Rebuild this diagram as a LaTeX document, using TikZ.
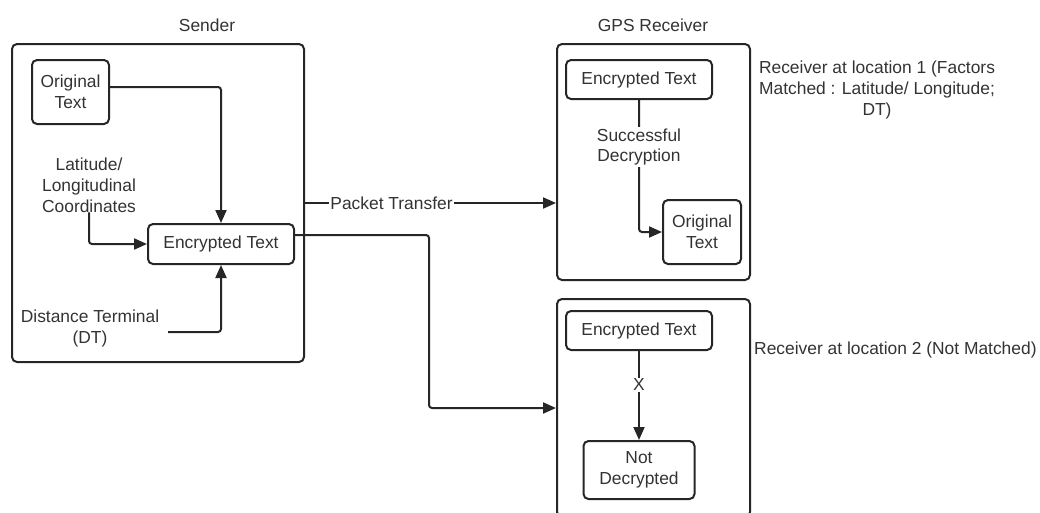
\documentclass[tikz,border=0pt]{standalone}
\usepackage{fontspec}
\setmainfont{Liberation Sans}
\usetikzlibrary{arrows.meta,calc}
\definecolor{ink}{HTML}{262626}
\definecolor{txt}{HTML}{333333}
\begin{document}
\begin{tikzpicture}[x=1pt,y=-1pt,
  every node/.style={font=\fontsize{17.4pt}{20.8pt}\selectfont, text=txt},
  frame/.style={draw=ink, line width=2pt, rounded corners=5pt, inner sep=0pt},
  box/.style={draw=ink, line width=2pt, rounded corners=5pt, align=center, inner sep=0pt},
  tag/.style={fill=white, inner sep=1.5pt, align=center},
  link/.style={draw=ink, line width=2pt, rounded corners=3pt},
  arr/.style={link, -{Triangle[length=13pt,width=11pt]}}]
\useasboundingbox (0,0) rectangle (1040,512);
\clip (0,0) rectangle (1040,512);

% titles
\node (tsend) at (207,25) {Sender};
\node (trecv) at (653,25) {GPS Receiver};

% containers
\node[frame, minimum width=292pt, minimum height=318pt] (sender) at (158,203) {};
\node[frame, minimum width=193pt, minimum height=236pt] (rx1) at (653.5,162) {};
\node[frame, minimum width=193pt, minimum height=218pt] (rx2) at (653.5,408) {};

% sender side
\node[box, minimum width=77pt, minimum height=64pt] (orig) at (70.5,92) {Original\\Text};
\node[box, minimum width=146pt, minimum height=40pt] (senc) at (221,244) {Encrypted Text};
\node[align=center, inner sep=0pt] (lat) at (89,185) {Latitude/\\Longitudinal\\Coordinates};
\node[align=center, inner sep=0pt] (dt) at (90,328.5) {Distance Terminal\\(DT)};
\coordinate (dtend) at (168,332);

\draw[arr] ($(orig.east)+(0,-5)$) -| (senc.north);
\draw[arr] (lat.south) |- (senc.west);
\draw[arr] (dtend) -| (senc.south);

% receiver at location 1
\node[box, minimum width=146pt, minimum height=39pt] (renc) at (639,79.5) {Encrypted Text};
\node[box, minimum width=78pt, minimum height=64pt] (rorig) at (702,232) {Original\\Text};
\draw[arr] (renc.south) |- (rorig.west);
\node[tag] (succ) at (639,147) {Successful\\Decryption};
\node[align=center] (note1) at (877,90) {Receiver at location 1 (Factors\\Matched : Latitude/ Longitude;\\DT)};

% receiver at location 2
\node[box, minimum width=146pt, minimum height=39pt] (renc2) at (639,330.5) {Encrypted Text};
\node[box, minimum width=111pt, minimum height=58pt] (ndec) at (639,470) {Not\\Decrypted};
\draw[arr] (renc2.south) -- (ndec.north);
\node[tag] (xmark) at (639,385) {X};
\node[anchor=west, inner sep=0pt] (note2) at (754,350) {Receiver at location 2 (Not Matched)};

% transfer links
\draw[arr] (sender.east) -- (sender.east -| rx1.west);
\node[tag] (pkt) at (391.5,203) {Packet Transfer};
\coordinate (drop) at (429,0);
\draw[arr] ($(senc.east)+(0,-9)$) -| (drop |- rx2.west) -- (rx2.west);
\end{tikzpicture}
\end{document}
